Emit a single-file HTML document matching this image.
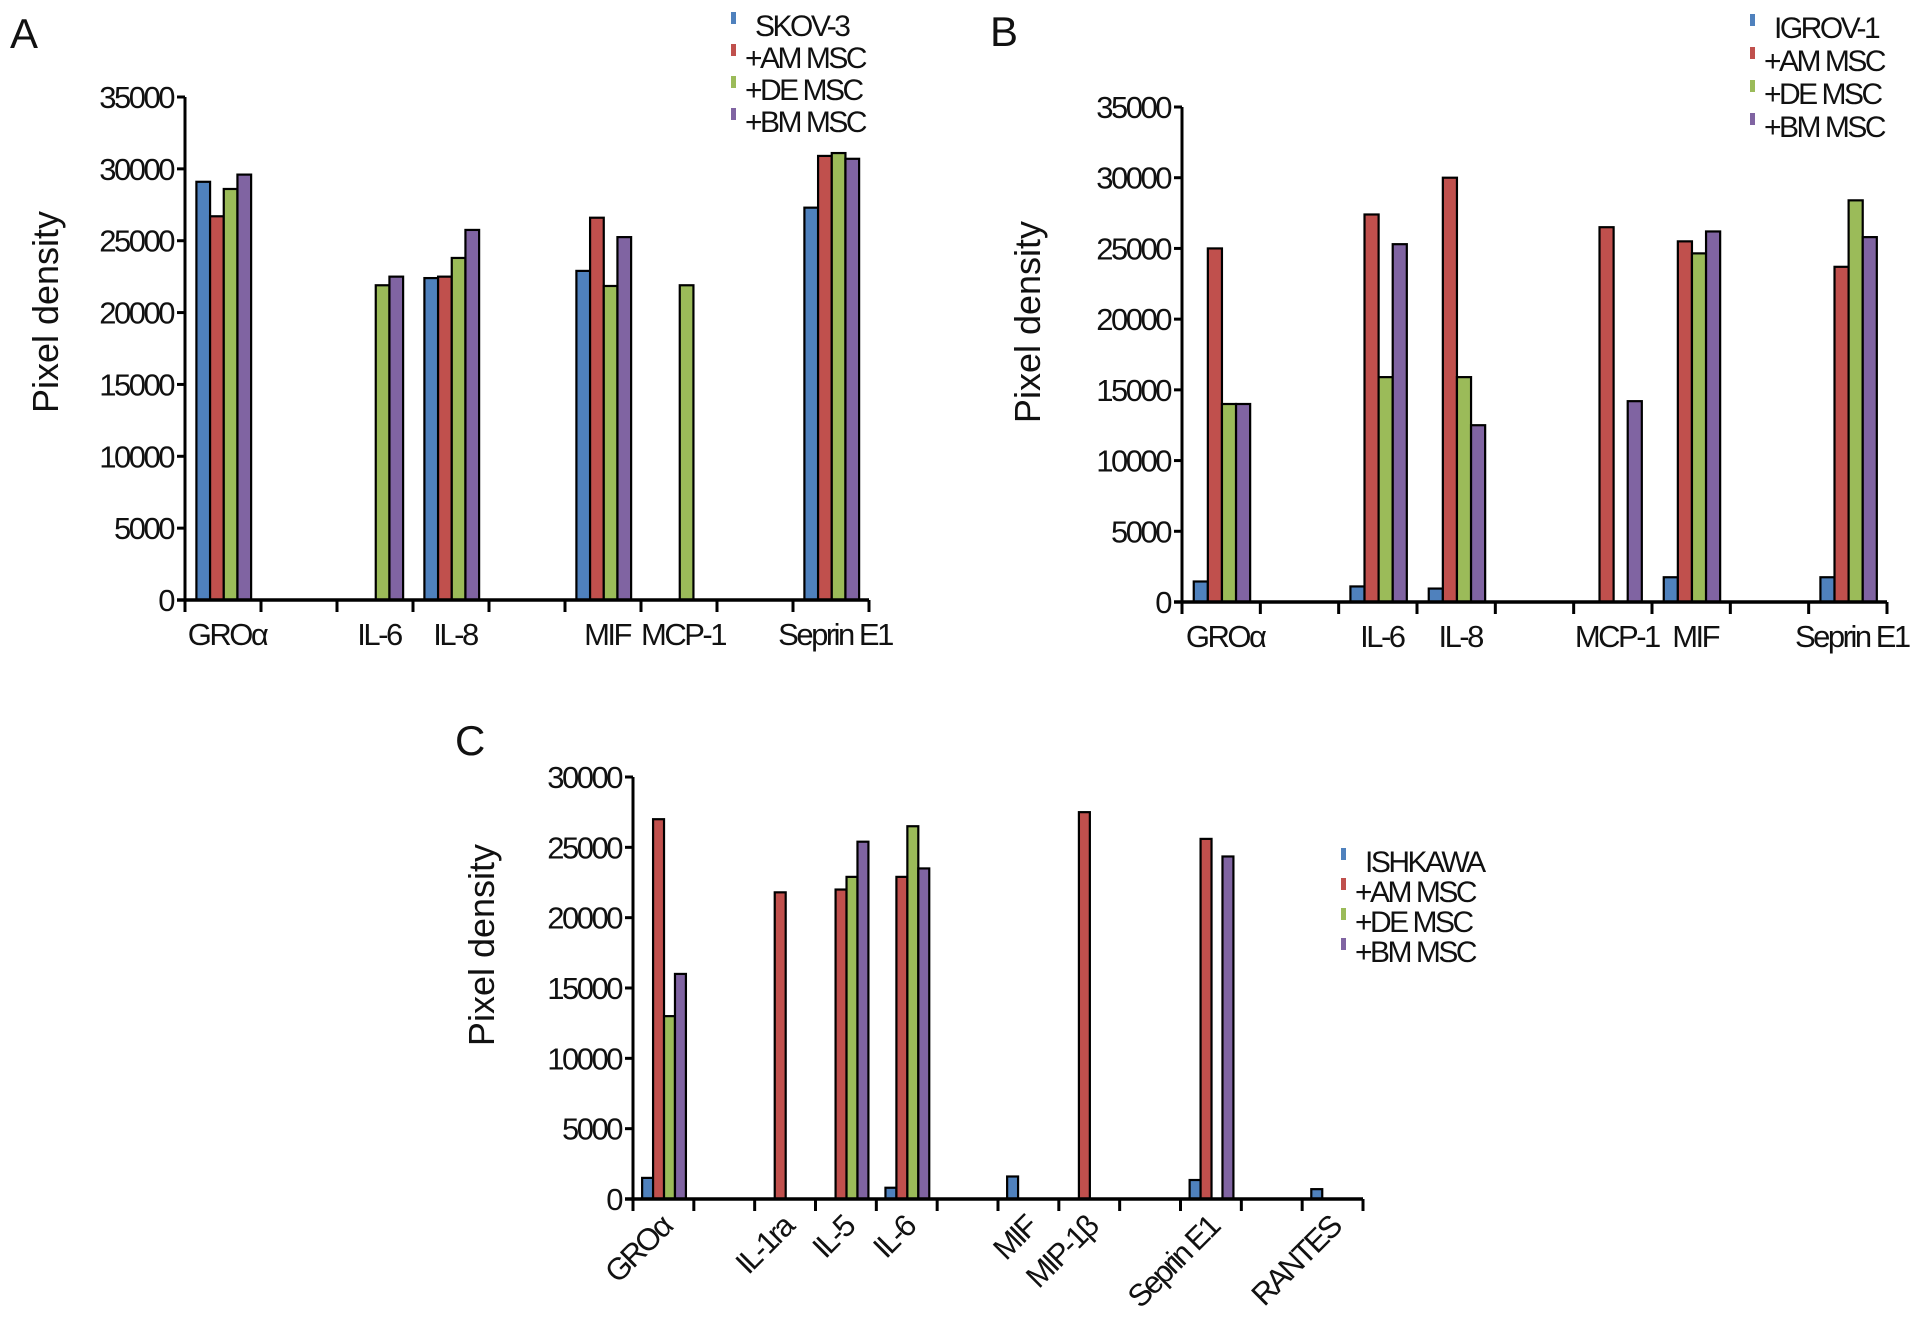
<!DOCTYPE html>
<html><head><meta charset="utf-8"><style>
html,body{margin:0;padding:0;background:#fff;}
svg{display:block;font-family:"Liberation Sans",Arial,sans-serif;}
.tk{font-size:31px;letter-spacing:-2.5px;fill:#111;}
.lg{font-size:30px;letter-spacing:-2.5px;fill:#111;}
.ttl{font-size:36px;fill:#111;}
.pn{font-size:42px;fill:#111;}
</style></head><body>
<svg id="fig" width="1913" height="1331" viewBox="0 0 1913 1331"></svg>
<script>
const colors = ["#4F81BD","#C0504D","#9BBB59","#8064A2"];

const catsA = ["GROα","","IL-6","IL-8","","MIF","MCP-1","","Seprin E1"];
const blueA   = [29100,0,0,22400,0,22900,0,0,27300];
const redA    = [26700,0,0,22500,0,26600,0,0,30900];
const greenA  = [28600,0,21900,23800,0,21850,21900,0,31100];
const purpleA = [29600,0,22500,25750,0,25250,0,0,30700];
const ticksA = [0,5000,10000,15000,20000,25000,30000,35000];
const legendA = ["SKOV-3","+AM MSC","+DE MSC","+BM MSC"];

const catsB = ["GROα","","IL-6","IL-8","","MCP-1","MIF","","Seprin E1"];
const blueB   = [1450,0,1100,950,0,0,1750,0,1750];
const redB    = [25000,0,27400,30000,0,26500,25500,0,23700];
const greenB  = [14000,0,15900,15900,0,0,24650,0,28400];
const purpleB = [14000,0,25300,12500,0,14200,26200,0,25800];
const ticksB = [0,5000,10000,15000,20000,25000,30000,35000];
const legendB = ["IGROV-1","+AM MSC","+DE MSC","+BM MSC"];

const catsC = ["GROα","","IL-1ra","IL-5","IL-6","","MIF","MIP-1β","","Seprin E1","","RANTES"];
const blueC   = [1500,0,0,0,800,0,1600,0,0,1350,0,700];
const redC    = [27000,0,21800,22000,22900,0,0,27500,0,25600,0,0];
const greenC  = [13000,0,0,22900,26500,0,0,0,0,0,0,0];
const purpleC = [16000,0,0,25400,23500,0,0,0,0,24350,0,0];
const ticksC = [0,5000,10000,15000,20000,25000,30000];
const legendC = ["ISHKAWA","+AM MSC","+DE MSC","+BM MSC"];

const NS="http://www.w3.org/2000/svg";
const svg=document.getElementById('fig');
function mk(tag,attrs,parent){const e=document.createElementNS(NS,tag);for(const k in attrs)e.setAttribute(k,attrs[k]);(parent||svg).appendChild(e);return e;}

function chart(id,cfg,cats,series,ticks,legend){
  const g=mk('g',{});
  
  
  const x0=cfg.x0,x1=cfg.x1,y0=cfg.y0,yT=cfg.yT,vmax=cfg.vmax;
  const yS=v=>y0-(v/vmax)*(y0-yT);
  const slot=(x1-x0)/cats.length;
  const xS=i=>x0+i*slot;
  for(let s=0;s<series.length;s++){
    for(let i=0;i<cats.length;i++){
      const v=series[s][i]; if(!v) continue;
      const bw=slot*0.18, bx=xS(i)+slot*0.15+s*bw;
      const r=mk('rect',{x:bx,y:yS(v),width:bw,height:y0-yS(v),fill:colors[s],stroke:'#000','stroke-width':2.2},g);
      
      
    }
  }
  const ya=mk('line',{x1:x0,y1:yT,x2:x0,y2:y0,stroke:'#000','stroke-width':3},g);
  
  
  const xa=mk('line',{x1:x0-8,y1:y0,x2:x1,y2:y0,stroke:'#000','stroke-width':3.5},g);
  
  
  ticks.forEach(t=>{
    mk('line',{x1:x0-8,y1:yS(t),x2:x0,y2:yS(t),stroke:'#000','stroke-width':3},g);
    const tl=mk('text',{x:x0-12,y:yS(t)+11,'text-anchor':'end','class':'tk'},g);
    tl.textContent=t;
    
    
  });
  for(let i=0;i<=cats.length;i++) mk('line',{x1:xS(i),y1:y0,x2:xS(i),y2:y0+12,stroke:'#000','stroke-width':3},g);
  cats.forEach((c,i)=>{
    if(!c) return;
    const cx=xS(i)+slot*0.5;
    let tl;
    if(cfg.rot){
      tl=mk('text',{x:cx+10,y:y0+30,'text-anchor':'end','class':'tk',transform:`rotate(-45 ${cx+10} ${y0+30})`},g);
    } else {
      tl=mk('text',{x:cx+4,y:y0+45,'text-anchor':'middle','class':'tk'},g);
    }
    tl.textContent=c;
    
    
  });
  const yt=mk('text',{x:cfg.tx,y:cfg.ty,'text-anchor':'middle','class':'ttl',transform:`rotate(-90 ${cfg.tx} ${cfg.ty})`},g);
  yt.textContent='Pixel  density';
  
  
  const pl=mk('text',{x:cfg.px,y:cfg.py,'class':'pn'},g);
  pl.textContent=cfg.letter;
  
  
  legend.forEach((l,k)=>{
    const ly=cfg.ly+k*cfg.ld;
    const m=mk('rect',{x:cfg.lx,y:ly-24,width:5,height:12,fill:colors[k]},g);
    
    
    const t=mk('text',{x:cfg.lx+(k==0?24:14),y:ly,'class':'lg'},g);
    t.textContent=l;
    
    
  });
}

chart('chart-a',{x0:185,x1:869,y0:600,yT:97,vmax:35000,tx:58,ty:312,px:10,py:48,letter:'A',lx:731,ly:36,ld:32},
  catsA,[blueA,redA,greenA,purpleA],ticksA,legendA);
chart('chart-b',{x0:1182,x1:1887,y0:602,yT:107,vmax:35000,tx:1040,ty:322,px:990,py:46,letter:'B',lx:1750,ly:38,ld:33},
  catsB,[blueB,redB,greenB,purpleB],ticksB,legendB);
chart('chart-c',{x0:633,x1:1363,y0:1199,yT:777,vmax:30000,tx:494,ty:945,px:455,py:755,letter:'C',lx:1341,ly:872,ld:30,rot:true},
  catsC,[blueC,redC,greenC,purpleC],ticksC,legendC);
</script>
</body></html>
